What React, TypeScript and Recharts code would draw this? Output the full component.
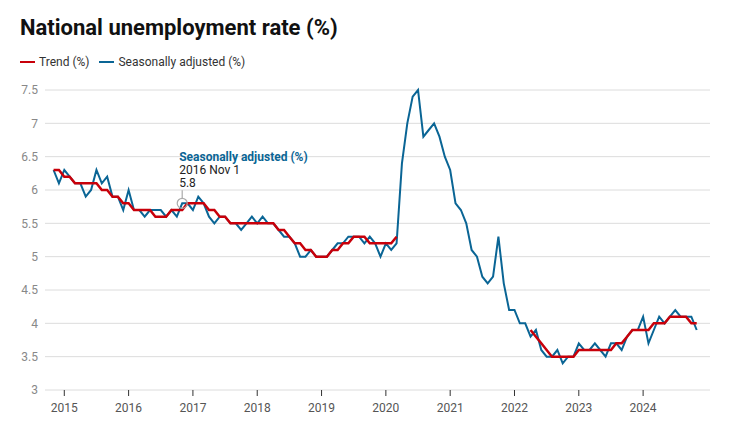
import React from "react";
import {
  LineChart,
  Line,
  XAxis,
  YAxis,
  CartesianGrid,
  ReferenceDot,
} from "recharts";

// monthly, Nov 2014 .. Nov 2024
const startYear = 2014;
const startMonth = 10; // 0-based, Nov

const seasonallyAdjusted = [
  6.3, 6.1, 6.3, 6.2, 6.1, 6.1, 5.9, 6.0, 6.3, 6.1, 6.2, 5.9, 5.9, 5.7, 6.0,
  5.7, 5.7, 5.6, 5.7, 5.7, 5.7, 5.6, 5.7, 5.6, 5.8, 5.8, 5.7, 5.9, 5.8, 5.6,
  5.5, 5.6, 5.6, 5.5, 5.5, 5.4, 5.5, 5.6, 5.5, 5.6, 5.5, 5.5, 5.4, 5.3, 5.3,
  5.2, 5.0, 5.0, 5.1, 5.0, 5.0, 5.0, 5.1, 5.2, 5.2, 5.3, 5.3, 5.3, 5.2, 5.3,
  5.2, 5.0, 5.2, 5.1, 5.2, 6.4, 7.0, 7.4, 7.5, 6.8, 6.9, 7.0, 6.8, 6.5, 6.3,
  5.8, 5.7, 5.5, 5.1, 5.0, 4.7, 4.6, 4.7, 5.3, 4.6, 4.2, 4.2, 4.0, 4.0, 3.8,
  3.9, 3.6, 3.5, 3.5, 3.6, 3.4, 3.5, 3.5, 3.7, 3.6, 3.6, 3.7, 3.6, 3.5, 3.7,
  3.7, 3.6, 3.8, 3.9, 3.9, 4.1, 3.7, 3.9, 4.1, 4.0, 4.1, 4.2, 4.1, 4.1, 4.1,
  3.9,
];

const trend = [
  6.3, 6.3, 6.2, 6.2, 6.1, 6.1, 6.1, 6.1, 6.1, 6.0, 6.0, 5.9, 5.9, 5.8, 5.8,
  5.7, 5.7, 5.7, 5.7, 5.6, 5.6, 5.6, 5.7, 5.7, 5.7, 5.8, 5.8, 5.8, 5.8, 5.7,
  5.7, 5.6, 5.6, 5.5, 5.5, 5.5, 5.5, 5.5, 5.5, 5.5, 5.5, 5.5, 5.4, 5.4, 5.3,
  5.2, 5.2, 5.1, 5.1, 5.0, 5.0, 5.0, 5.1, 5.1, 5.2, 5.2, 5.3, 5.3, 5.3, 5.2,
  5.2, 5.2, 5.2, 5.2, 5.3, null, null, null, null, null, null, null, null,
  null, null, null, null, null, null, null, null, null, null, null, null, null,
  null, null, null, 3.9, 3.8, 3.7, 3.6, 3.5, 3.5, 3.5, 3.5, 3.5, 3.6, 3.6, 3.6,
  3.6, 3.6, 3.6, 3.6, 3.7, 3.7, 3.8, 3.9, 3.9, 3.9, 3.9, 4.0, 4.0, 4.0, 4.1,
  4.1, 4.1, 4.1, 4.0, 4.0,
];

const xTicks = [2015, 2016, 2017, 2018, 2019, 2020, 2021, 2022, 2023, 2024];
const yTicks = [3, 3.5, 4, 4.5, 5, 5.5, 6, 6.5, 7, 7.5];

const monthNames = ["Jan", "Feb", "Mar", "Apr", "May", "Jun", "Jul", "Aug", "Sep", "Oct", "Nov", "Dec"];

const data = seasonallyAdjusted.map((sa, i) => {
  const m = startMonth + i;
  const year = startYear + Math.floor(m / 12);
  const month = m % 12;
  return {
    x: year + month / 12,
    label: `${year} ${monthNames[month]} 1`,
    sa,
    trend: trend[i],
  };
});

const RED = "#c8000a";
const BLUE = "#0a6595";

const note = data[24]; // 2016 Nov 1

const NoteShape = (props: any) => {
  const { cx, cy } = props;
  return (
    <g>
      <line x1={cx} x2={cx} y1={cy - 13} y2={cy - 5} stroke="#aaa" strokeWidth={1.2} />
      <circle cx={cx} cy={cy} r={5} fill="none" stroke="#aaa" strokeWidth={1.2} />
      <text x={cx - 3} y={cy - 42} fontSize={12} fontWeight="bold" fill={BLUE} fontFamily="Roboto">
        Seasonally adjusted (%)
      </text>
      <text x={cx - 3} y={cy - 29} fontSize={12} fill="#222" fontFamily="Roboto">
        {note.label}
      </text>
      <text x={cx - 3} y={cy - 16} fontSize={12} fill="#222" fontFamily="Roboto">
        {note.sa}
      </text>
    </g>
  );
};

export default function App() {
  return (
    <div
      style={{
        position: "relative",
        width: 729,
        height: 425,
        margin: -8,
        background: "#fff",
        fontFamily: "Roboto",
      }}
    >
      <div
        style={{
          position: "absolute",
          left: 20,
          top: 15,
          fontSize: 22,
          fontWeight: "bold",
          color: "#111",
          whiteSpace: "nowrap",
        }}
      >
        National unemployment rate (%)
      </div>
      <div
        style={{
          position: "absolute",
          left: 20,
          top: 55,
          fontSize: 12,
          color: "#333",
          display: "flex",
          alignItems: "center",
          whiteSpace: "nowrap",
        }}
      >
        <span style={{ width: 15, height: 2.5, background: RED, marginRight: 4, display: "inline-block" }} />
        <span>Trend (%)</span>
        <span style={{ width: 15, height: 2.5, background: BLUE, marginLeft: 10, marginRight: 4, display: "inline-block" }} />
        <span>Seasonally adjusted (%)</span>
      </div>
      <div style={{ position: "absolute", left: 0, top: 0 }}>
        <LineChart
          width={729}
          height={425}
          data={data}
          margin={{ top: 90, right: 19, bottom: 0, left: 0 }}
        >
          <CartesianGrid vertical={false} stroke="#dcdcdc" />
          <XAxis
            dataKey="x"
            type="number"
            domain={[2014.7, 2025.04]}
            ticks={xTicks}
            allowDataOverflow
            height={35}
            axisLine={false}
            tickSize={6}
            tickMargin={7}
            tickLine={{ stroke: "#333" }}
            tick={{ fontSize: 12, fill: "#555", fontFamily: "Roboto" }}
          />
          <YAxis
            domain={[3, 7.5]}
            ticks={yTicks}
            width={45}
            axisLine={false}
            tickLine={false}
            tickSize={0}
            tickMargin={7}
            tick={{ fontSize: 12, fill: "#888", fontFamily: "Roboto" }}
          />
          <Line
            dataKey="sa"
            stroke={BLUE}
            strokeWidth={2}
            dot={false}
            type="linear"
            isAnimationActive={false}
          />
          <Line
            dataKey="trend"
            stroke={RED}
            strokeWidth={2.5}
            dot={false}
            type="linear"
            isAnimationActive={false}
          />
          <ReferenceDot x={note.x} y={note.sa} r={5} shape={NoteShape} />
        </LineChart>
      </div>
    </div>
  );
}
